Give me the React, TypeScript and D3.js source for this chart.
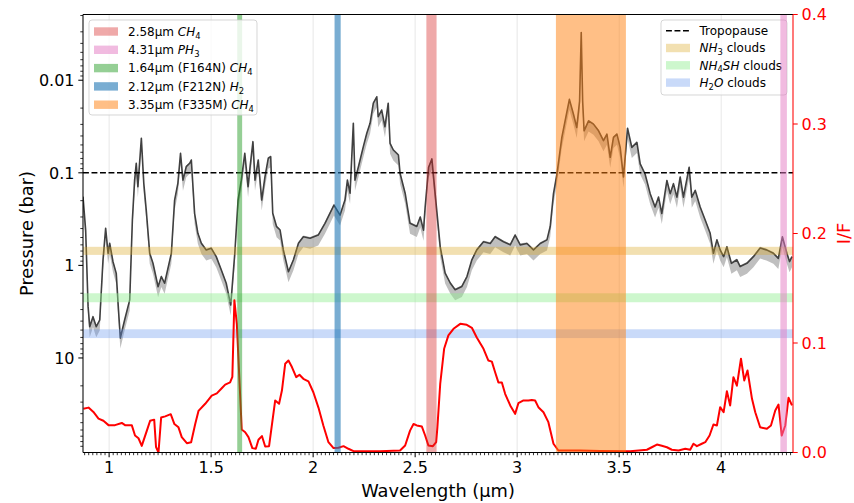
import React from 'react';
import * as d3 from 'd3';

// ---------------- DATA ----------------
// Retrieved pressure level (bar) vs wavelength (µm)
const wavelengthP = [0.872,0.885,0.897,0.905,0.921,0.937,0.954,0.970,0.983,0.995,
1.003,1.019,1.035,1.046,1.055,1.076,1.101,1.114,1.125,1.133,
1.141,1.158,1.170,1.182,1.199,1.215,1.240,1.256,1.272,1.305,
1.321,1.337,1.350,1.362,1.378,1.395,1.403,1.419,1.435,1.452,
1.476,1.501,1.525,1.550,1.574,1.596,1.616,1.632,1.648,1.665,
1.681,1.691,1.705,1.715,1.731,1.748,1.764,1.780,1.792,1.802,
1.821,1.838,1.854,1.879,1.903,1.928,1.952,1.985,2.025,2.058,
2.102,2.132,2.156,2.168,2.181,2.197,2.205,2.222,2.246,2.263,
2.279,2.295,2.312,2.319,2.336,2.352,2.368,2.377,2.393,2.418,
2.426,2.451,2.475,2.508,2.525,
2.541,2.549,2.566,2.582,2.598,2.623,2.647,2.672,2.696,2.729,
2.754,2.778,2.802,2.835,2.868,2.892,2.933,2.966,2.990,3.015,
3.048,3.080,3.113,3.146,3.162,3.178,3.195,3.219,3.235,3.256,
3.276,3.292,3.306,3.314,3.321,3.328,3.350,3.374,3.399,3.423,
3.440,3.456,3.472,3.489,3.505,3.521,3.541,3.562,3.587,3.603,
3.627,3.652,3.676,3.693,3.709,3.734,3.750,3.766,3.783,3.799,
3.815,3.843,3.856,3.873,3.897,3.922,3.946,3.962,3.979,3.995,
4.012,4.028,4.050,4.077,4.093,4.126,4.158,4.191,4.222,4.256,
4.280,4.300,4.322,4.335,4.347];
const pressure = [0.181,0.415,2.79,4.59,3.58,4.59,3.89,0.875,0.397,0.740,
0.577,0.912,1.22,3.04,6.08,3.89,2.36,0.323,0.120,0.0789,
0.141,0.0424,0.130,0.252,0.740,0.949,1.70,1.32,1.56,0.740,
0.197,0.130,0.0615,0.120,0.0859,0.0789,0.0727,0.274,0.450,0.577,
0.682,0.654,0.805,1.12,1.56,2.68,0.740,0.197,0.120,0.0615,
0.141,0.0859,0.0461,0.120,0.0727,0.197,0.110,0.0697,0.0670,0.274,
0.382,0.415,0.682,1.17,0.875,0.577,0.490,0.509,0.470,0.351,
0.223,0.286,0.197,0.120,0.166,0.0292,0.120,0.0859,0.0522,0.0374,
0.0292,0.0177,0.0151,0.0248,0.0210,0.0318,0.0177,0.0480,0.0567,0.0643,
0.101,0.166,0.351,0.38,0.30,
0.416,0.234,0.087,0.0708,0.168,0.63,1.21,1.55,1.83,1.69,
1.32,0.87,0.68,0.556,0.58,0.49,0.556,0.60,0.47,0.60,
0.58,0.68,0.58,0.53,0.38,0.168,0.103,0.0415,0.0275,0.0161,
0.0233,0.0324,0.0168,0.00305,0.0168,0.0352,0.0275,0.0298,0.0352,0.045,
0.0382,0.068,0.0415,0.0382,0.0531,0.111,0.033,0.0531,0.047,0.080,
0.103,0.168,0.234,0.183,0.275,0.121,0.168,0.131,0.183,0.111,
0.183,0.087,0.183,0.155,0.234,0.325,0.45,0.74,0.53,0.68,
0.805,0.63,0.95,0.87,1.03,0.95,0.805,0.65,0.68,0.74,
0.84,0.49,0.74,0.91,0.805];
// relative uncertainty envelope of the pressure retrieval
const pressureLowFactor = 0.97;
const pressureHighFactor = 1.3;

// I/F spectrum
const wavelengthIF = [0.874,0.899,0.923,0.948,0.972,0.997,1.029,1.062,1.078,1.111,
1.127,1.144,1.160,1.185,1.201,1.221,1.230,1.242,1.255,1.275,
1.302,1.320,1.340,1.356,1.381,1.402,1.422,1.438,1.471,1.503,
1.528,1.552,1.569,1.593,1.604,1.614,1.626,1.650,1.667,1.683,
1.702,1.719,1.732,1.749,1.765,1.784,1.814,1.833,1.847,1.863,
1.879,1.896,1.917,1.933,1.952,1.977,2.001,2.026,2.050,2.075,
2.100,2.124,2.149,2.173,2.198,2.328,2.426,2.451,2.475,2.492,
2.508,2.533,2.549,2.565,2.587,2.603,2.609,2.623,2.642,2.663,
2.688,2.721,2.753,2.778,2.802,2.835,2.859,2.876,2.892,2.908,
2.925,2.941,2.966,2.990,3.006,3.031,3.055,3.072,3.088,3.104,
3.129,3.153,3.178,3.202,3.309,3.407,3.554,3.636,3.660,3.685,
3.709,3.734,3.758,3.791,3.824,3.848,3.864,3.881,3.905,3.922,
3.943,3.962,3.979,3.995,4.012,4.028,4.044,4.060,4.077,4.097,
4.113,4.129,4.151,4.167,4.191,4.224,4.244,4.265,4.281,4.297,
4.314,4.330,4.347];
const reflectance = [0.040,0.041,0.037,0.031,0.029,0.025,0.025,0.027,0.025,0.025,
0.0155,0.013,0.006,0.020,0.029,0.030,0.005,0.000,0.032,0.033,
0.035,0.026,0.023,0.014,0.0085,0.0094,0.026,0.038,0.0445,0.052,
0.054,0.0587,0.062,0.064,0.069,0.139,0.1175,0.021,0.0185,0.014,
0.004,0.0034,0.0116,0.015,0.0055,0.0058,0.0475,0.0445,0.0566,0.081,
0.084,0.078,0.0688,0.071,0.0673,0.065,0.055,0.041,0.0247,0.0094,
0.004,0.0043,0.0058,0.0034,0.0012,0.0012,0.0018,0.0064,0.020,0.026,
0.0247,0.0237,0.0155,0.0064,0.0058,0.0094,0.023,0.063,0.0947,0.107,
0.113,0.1175,0.1166,0.1139,0.105,0.0947,0.084,0.083,0.0733,0.064,
0.064,0.0536,0.043,0.0353,0.045,0.0475,0.0475,0.048,0.0475,0.0414,
0.0368,0.0277,0.008,0.0018,0.0018,0.0014,0.0012,0.0025,0.0048,0.0073,
0.0061,0.0048,0.0025,0.0018,0.0034,0.0025,0.008,0.0058,0.008,0.0094,
0.0155,0.0256,0.0247,0.0414,0.0368,0.056,0.043,0.0688,0.061,0.0856,
0.0658,0.0749,0.049,0.0368,0.023,0.0216,0.0247,0.0384,0.0438,0.0155,
0.0247,0.050,0.043];

// Filter / absorption bands (µm), in legend order
const bandLow = [2.555, 4.290, 1.628, 2.105, 3.190];
const bandHigh = [2.605, 4.322, 1.652, 2.135, 3.533];
type Part = { t: string; it?: boolean; sub?: boolean };
const bandLabels: Part[][] = [
  [{ t: '2.58µm ' }, { t: 'CH', it: true }, { t: '4', sub: true }],
  [{ t: '4.31µm ' }, { t: 'PH', it: true }, { t: '3', sub: true }],
  [{ t: '1.64µm (F164N) ' }, { t: 'CH', it: true }, { t: '4', sub: true }],
  [{ t: '2.12µm (F212N) ' }, { t: 'H', it: true }, { t: '2', sub: true }],
  [{ t: '3.35µm (F335M) ' }, { t: 'CH', it: true }, { t: '4', sub: true }],
];

// Tropopause and cloud layers (bar)
const tropopause = 0.1;
const cloudTop = [0.63, 2.0, 4.9];
const cloudBase = [0.77, 2.5, 6.1];
const cloudLabels: Part[][] = [
  [{ t: 'NH', it: true }, { t: '3', sub: true }, { t: ' clouds' }],
  [{ t: 'NH', it: true }, { t: '4', sub: true }, { t: 'SH', it: true }, { t: ' clouds' }],
  [{ t: 'H', it: true }, { t: '2', sub: true }, { t: 'O', it: true }, { t: ' clouds' }],
];

// Ticks
const xTicks = [1, 1.5, 2, 2.5, 3, 3.5, 4];
const xTickLabels = ['1', '1.5', '2', '2.5', '3', '3.5', '4'];
const pTicks = [0.01, 0.1, 1, 10];
const pTickLabels = ['0.01', '0.1', '1', '10'];
const ifTicks = [0, 0.1, 0.2, 0.3, 0.4];
const ifTickLabels = ['0.0', '0.1', '0.2', '0.3', '0.4'];

// ---------------- STYLE ----------------
const bandColors = ['#d62728', '#e377c2', '#2ca02c', '#1f77b4', '#ff7f0e'];
const bandAlpha = [0.4, 0.5, 0.5, 0.6, 0.5];
const cloudColors = ['#daa520', '#90ee90', '#6495ed'];
const cloudAlpha = [0.35, 0.45, 0.35];
const FONT = 'DejaVu Sans, Verdana, sans-serif';

const W = 854, H = 503;
const L = 83, R = 793, T = 14.5, B = 452.5;

function Rich({ x, y, parts, fs }: { x: number; y: number; parts: Part[]; fs: number }) {
  let shifted = false;
  const off = fs * 0.24;
  return (
    <text x={x} y={y} fontSize={fs} fontFamily={FONT} style={{ whiteSpace: 'pre' }} fill="#000">
      {parts.map((p, i) => {
        let dy: number | undefined;
        if (p.sub && !shifted) { dy = off; shifted = true; }
        else if (!p.sub && shifted) { dy = -off; shifted = false; }
        return (
          <tspan key={i} dy={dy} fontStyle={p.it ? 'italic' : 'normal'} fontSize={p.sub ? fs * 0.7 : fs}>
            {p.t}
          </tspan>
        );
      })}
    </text>
  );
}

export default function App() {
  const x = d3.scaleLinear().domain([0.872, 4.352]).range([L, R]);
  const yP = d3.scaleLog().domain([0.00195, 105]).range([T, B]);
  const yI = d3.scaleLinear().domain([0, 0.4]).range([B, T]);

  const pIdx = d3.range(wavelengthP.length);
  const pLine = d3.line<number>().x(i => x(wavelengthP[i])).y(i => yP(pressure[i]))(pIdx) || '';
  const pArea = d3.area<number>()
    .x(i => x(wavelengthP[i]))
    .y0(i => yP(pressure[i] * pressureLowFactor))
    .y1(i => yP(pressure[i] * pressureHighFactor))(pIdx) || '';
  const iIdx = d3.range(wavelengthIF.length);
  const ifLine = d3.line<number>().x(i => x(wavelengthIF[i])).y(i => yI(reflectance[i]))(iIdx) || '';

  const xMinor: number[] = [];
  for (let i = 44; i <= 217; i++) if (i % 25 !== 0) xMinor.push(i / 50);
  const yMinor: number[] = [];
  const [d0, d1] = yP.domain();
  [0.001, 0.01, 0.1, 1, 10, 100].forEach(dec => {
    for (let k = 2; k <= 9; k++) {
      const v = k * dec;
      if (v >= d0 && v <= d1) yMinor.push(v);
    }
  });

  const tickFs = 16;
  const labFs = 17.8;
  const legFs = 12;

  const lg1 = { x: 89, y: 20, w: 168, h: 95, row0: 31.5, step: 18.3 };
  const lg2 = { x: 661, y: 20, w: 126, h: 75, row0: 30.7, step: 17.3 };

  return (
    <div style={{ position: 'fixed', left: 0, top: 0 }}>
      <svg width={W} height={H} viewBox={`0 0 ${W} ${H}`} style={{ display: 'block', background: '#fff' }}>
        <defs>
          <clipPath id="plot"><rect x={L} y={T} width={R - L} height={B - T} /></clipPath>
        </defs>
        <rect x={0} y={0} width={W} height={H} fill="#fff" />
        <g clipPath="url(#plot)">
          {xTicks.map((t, i) => (
            <line key={i} x1={x(t)} x2={x(t)} y1={T} y2={B} stroke="#b0b0b0" strokeOpacity={0.35} strokeWidth={0.9} />
          ))}
          <path d={pArea} fill="#808080" fillOpacity={0.5} stroke="none" />
          <path d={pLine} fill="none" stroke="#404040" strokeWidth={1.6} strokeLinejoin="round" />
          <line x1={L} x2={R} y1={yP(tropopause)} y2={yP(tropopause)} stroke="#000" strokeWidth={1.6} strokeDasharray="5.9,2.6" />
          {cloudTop.map((c, i) => (
            <rect key={i} x={L} width={R - L} y={yP(c)} height={yP(cloudBase[i]) - yP(c)} fill={cloudColors[i]} fillOpacity={cloudAlpha[i]} />
          ))}
        </g>
        <g>
          <rect x={lg2.x} y={lg2.y} width={lg2.w} height={lg2.h} rx={3} fill="#fff" fillOpacity={0.8} stroke="#cccccc" strokeOpacity={0.8} />
          <line x1={lg2.x + 5} x2={lg2.x + 29} y1={lg2.row0} y2={lg2.row0} stroke="#000" strokeWidth={1.6} strokeDasharray="5.9,2.6" />
          <Rich x={lg2.x + 38.5} y={lg2.row0 + 4.3} parts={[{ t: 'Tropopause' }]} fs={legFs} />
          {cloudLabels.map((parts, i) => {
            const cy = lg2.row0 + (i + 1) * lg2.step;
            return (
              <g key={i}>
                <rect x={lg2.x + 5} y={cy - 4.2} width={24} height={8.4} fill={cloudColors[i]} fillOpacity={cloudAlpha[i]} />
                <Rich x={lg2.x + 38.5} y={cy + 4.3} parts={parts} fs={legFs} />
              </g>
            );
          })}
        </g>
        <g clipPath="url(#plot)">
          <path d={ifLine} fill="none" stroke="#ff0000" strokeWidth={2} strokeLinejoin="round" />
          {bandLow.map((lo, i) => (
            <rect key={i} x={x(lo)} width={x(bandHigh[i]) - x(lo)} y={T} height={B - T} fill={bandColors[i]} fillOpacity={bandAlpha[i]} />
          ))}
        </g>
        <g>
          <rect x={lg1.x} y={lg1.y} width={lg1.w} height={lg1.h} rx={3} fill="#fff" fillOpacity={0.8} stroke="#cccccc" strokeOpacity={0.8} />
          {bandLabels.map((parts, i) => {
            const cy = lg1.row0 + i * lg1.step;
            return (
              <g key={i}>
                <rect x={lg1.x + 5} y={cy - 4.2} width={24} height={8.4} fill={bandColors[i]} fillOpacity={bandAlpha[i]} />
                <Rich x={lg1.x + 39} y={cy + 4.3} parts={parts} fs={legFs} />
              </g>
            );
          })}
        </g>

        <line x1={L} x2={R} y1={T} y2={T} stroke="#000" strokeWidth={1.05} />
        <line x1={L} x2={R} y1={B} y2={B} stroke="#000" strokeWidth={1.05} />
        <line x1={L} x2={L} y1={T} y2={B} stroke="#000" strokeWidth={1.05} />
        <line x1={R} x2={R} y1={T} y2={B} stroke="#ff0000" strokeWidth={1.05} />

        {xMinor.map((t, i) => (
          <line key={'xm' + i} x1={x(t)} x2={x(t)} y1={B} y2={B + 2.7} stroke="#000" strokeWidth={0.8} />
        ))}
        {xTicks.map((t, i) => (
          <g key={'x' + i}>
            <line x1={x(t)} x2={x(t)} y1={B} y2={B + 4.7} stroke="#000" strokeWidth={1.05} />
            <text x={x(t)} y={B + 20} textAnchor="middle" fontSize={tickFs} fontFamily={FONT} fill="#000">{xTickLabels[i]}</text>
          </g>
        ))}
        {yMinor.map((t, i) => (
          <line key={'ym' + i} x1={L - 2.7} x2={L} y1={yP(t)} y2={yP(t)} stroke="#000" strokeWidth={0.8} />
        ))}
        {pTicks.map((t, i) => (
          <g key={'y' + i}>
            <line x1={L - 4.7} x2={L} y1={yP(t)} y2={yP(t)} stroke="#000" strokeWidth={1.05} />
            <text x={L - 8.5} y={yP(t) + 5.8} textAnchor="end" fontSize={tickFs} fontFamily={FONT} fill="#000">{pTickLabels[i]}</text>
          </g>
        ))}
        {ifTicks.map((t, i) => (
          <g key={'r' + i}>
            <line x1={R} x2={R + 4.7} y1={yI(t)} y2={yI(t)} stroke="#ff0000" strokeWidth={1.05} />
            <text x={R + 8.5} y={yI(t) + 5.8} textAnchor="start" fontSize={tickFs} fontFamily={FONT} fill="#ff0000">{ifTickLabels[i]}</text>
          </g>
        ))}

        <text x={(L + R) / 2} y={497} textAnchor="middle" fontSize={labFs} fontFamily={FONT} fill="#000">Wavelength (µm)</text>
        <text transform={`translate(33,${(T + B) / 2}) rotate(-90)`} textAnchor="middle" fontSize={labFs} fontFamily={FONT} fill="#000">Pressure (bar)</text>
        <text transform={`translate(850,${(T + B) / 2}) rotate(-90)`} textAnchor="middle" fontSize={labFs} fontFamily={FONT} fill="#ff0000">I/F</text>
      </svg>
    </div>
  );
}
